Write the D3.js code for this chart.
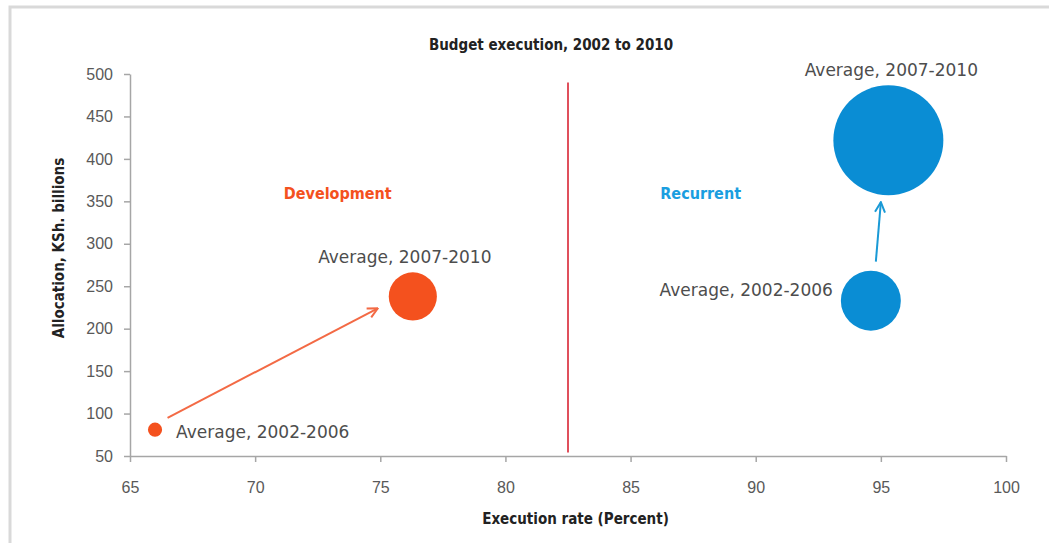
<!DOCTYPE html>
<html>
<head>
<meta charset="utf-8">
<script src="https://cdn.jsdelivr.net/npm/d3@7"></script>
<style>
  body { margin: 0; background: #fff; }
  svg { display: block; font-family: "DejaVu Sans", sans-serif; }
  .tick text { fill: #595959; font-size: 16px; }
  .tick line, .domain { stroke: #a6a6a6; stroke-width: 1.5; }
</style>
</head>
<body>
<div id="chart"></div>
<script>
var width = 1049, height = 543;
var margins = { top: 74, right: 43, bottom: 87, left: 130 };

// bubbles
var groups = ["Development", "Development", "Recurrent", "Recurrent"];
var periods = ["Average, 2002-2006", "Average, 2007-2010", "Average, 2002-2006", "Average, 2007-2010"];
var executionRate = [66.0, 76.3, 94.6, 95.3];
var allocation = [81, 238, 233, 422];
var bubbleSize = [5, 58, 90, 303];

// arrows from old to new average
var arrowFrom = [[66.5, 95], [94.8, 279]];
var arrowTo = [[74.9, 224], [95.0, 349]];
var arrowGroup = ["Development", "Recurrent"];

var dividerX = 82.5;
var dividerY = [54, 490];

var xTicks = [65, 70, 75, 80, 85, 90, 95, 100];
var yTicks = [50, 100, 150, 200, 250, 300, 350, 400, 450, 500];

var COLORS = {
  Development: "#f4511e",
  Recurrent: "#0a8dd4",
  devText: "#f4511e",
  recText: "#1a9ee0",
  devArrow: "#f36a45",
  recArrow: "#1a9ad6",
  divider: "#e0505c"
};

// label offsets relative to bubble edge (style only)
var labelPlace = [
  { side: "right", dx: 14, dy: 2 },
  { side: "top", dx: -8, dy: -9 },
  { side: "left", dx: -8, dy: -11 },
  { side: "top", dx: 3, dy: -9 }
];

var svg = d3.select("#chart").append("svg")
  .attr("width", width)
  .attr("height", height);

// frame
svg.append("rect")
  .attr("x", 10).attr("y", 7)
  .attr("width", 1200).attr("height", 700)
  .attr("fill", "none")
  .attr("stroke", "#d9d9d9")
  .attr("stroke-width", 3);

var chartW = width - margins.left - margins.right;
var chartH = height - margins.top - margins.bottom;

var x = d3.scaleLinear().domain([65, 100]).range([0, chartW]);
var y = d3.scaleLinear().domain([50, 500]).range([chartH, 0]);
var r = d3.scaleSqrt().domain([0, d3.max(bubbleSize)]).range([0, 55]);

var g = svg.append("g")
  .attr("transform", "translate(" + margins.left + "," + margins.top + ")");

g.append("g")
  .attr("transform", "translate(0," + chartH + ")")
  .call(d3.axisBottom(x).tickValues(xTicks).tickSize(6).tickSizeOuter(0).tickPadding(20))
  .call(a => a.selectAll(".tick text").attr("dy", "0.71em"));

g.append("g")
  .call(d3.axisLeft(y).tickValues(yTicks).tickSize(6).tickSizeOuter(0).tickPadding(11));

// title and axis titles
svg.append("text")
  .attr("x", 551).attr("y", 50)
  .attr("text-anchor", "middle")
  .style("font-family", "'DejaVu Sans Condensed', sans-serif")
  .style("font-weight", "bold")
  .style("font-size", "15px")
  .style("fill", "#222")
  .text("Budget execution, 2002 to 2010");

svg.append("text")
  .attr("x", margins.left + x(82.8)).attr("y", 524)
  .attr("text-anchor", "middle")
  .style("font-family", "'DejaVu Sans Condensed', sans-serif")
  .style("font-weight", "bold")
  .style("font-size", "15px")
  .style("fill", "#222")
  .text("Execution rate (Percent)");

svg.append("text")
  .attr("transform", "translate(64," + (margins.top + y(295)) + ") rotate(-90)")
  .attr("text-anchor", "middle")
  .style("font-family", "'DejaVu Sans Condensed', sans-serif")
  .style("font-weight", "bold")
  .style("font-size", "15px")
  .style("fill", "#222")
  .text("Allocation, KSh. billions");

// divider
g.append("line")
  .attr("x1", x(dividerX)).attr("x2", x(dividerX))
  .attr("y1", y(dividerY[1])).attr("y2", y(dividerY[0]))
  .attr("stroke", COLORS.divider)
  .attr("stroke-width", 2);

// group labels
var groupLabels = [
  { text: "Development", xv: 73.3, yv: 359, color: COLORS.devText },
  { text: "Recurrent", xv: 87.8, yv: 359, color: COLORS.recText }
];
g.selectAll(".group-label")
  .data(groupLabels).join("text")
  .attr("class", "group-label")
  .attr("x", d => x(d.xv))
  .attr("y", d => y(d.yv))
  .attr("dy", "0.35em")
  .attr("text-anchor", "middle")
  .style("font-family", "'DejaVu Sans Condensed', sans-serif")
  .style("font-weight", "bold")
  .style("font-size", "16px")
  .style("fill", d => d.color)
  .text(d => d.text);

// arrow markers
var defs = svg.append("defs");
["devArrow", "recArrow"].forEach(function(k) {
  defs.append("marker")
    .attr("id", "head-" + k)
    .attr("viewBox", "0 0 12 12")
    .attr("refX", 11).attr("refY", 6)
    .attr("markerWidth", 12).attr("markerHeight", 12)
    .attr("markerUnits", "userSpaceOnUse")
    .attr("orient", "auto")
    .append("path")
    .attr("d", "M1,1 L11,6 L1,11")
    .attr("fill", "none")
    .attr("stroke", COLORS[k])
    .attr("stroke-width", 2);
});

var arrows = arrowGroup.map((grp, i) => ({ grp: grp, from: arrowFrom[i], to: arrowTo[i] }));
g.selectAll(".arrow")
  .data(arrows).join("line")
  .attr("class", "arrow")
  .attr("x1", d => x(d.from[0])).attr("y1", d => y(d.from[1]))
  .attr("x2", d => x(d.to[0])).attr("y2", d => y(d.to[1]))
  .attr("stroke", d => d.grp == "Development" ? COLORS.devArrow : COLORS.recArrow)
  .attr("stroke-width", 2)
  .attr("marker-end", d => "url(#head-" + (d.grp == "Development" ? "devArrow" : "recArrow") + ")");

var bubbles = groups.map((grp, i) => ({
  grp: grp, label: periods[i], xv: executionRate[i], yv: allocation[i], size: bubbleSize[i], place: labelPlace[i]
}));

g.selectAll(".bubble")
  .data(bubbles).join("circle")
  .attr("class", "bubble")
  .attr("cx", d => x(d.xv))
  .attr("cy", d => y(d.yv))
  .attr("r", d => r(d.size))
  .style("fill", d => COLORS[d.grp]);

g.selectAll(".bubble-label")
  .data(bubbles).join("text")
  .attr("class", "bubble-label")
  .attr("x", function(d) {
    var cx = x(d.xv), rr = r(d.size);
    if (d.place.side == "right") return cx + rr + d.place.dx;
    if (d.place.side == "left") return cx - rr + d.place.dx;
    return cx + d.place.dx;
  })
  .attr("y", function(d) {
    var cy = y(d.yv), rr = r(d.size);
    if (d.place.side == "top") return cy - rr + d.place.dy;
    return cy + d.place.dy;
  })
  .attr("dy", d => d.place.side == "top" ? "0" : "0.35em")
  .attr("text-anchor", d => d.place.side == "right" ? "start" : d.place.side == "left" ? "end" : "middle")
  .style("font-size", "17px")
  .style("fill", "#4d4d4d")
  .text(d => d.label);
</script>
</body>
</html>
